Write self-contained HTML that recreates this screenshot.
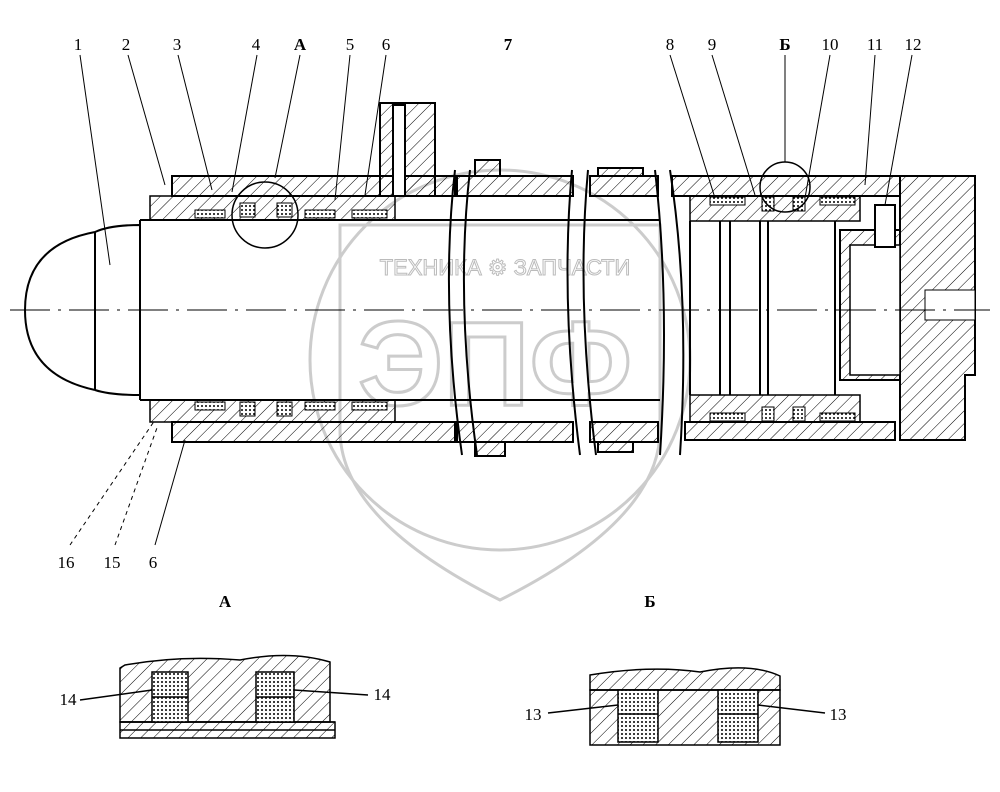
<!DOCTYPE html>
<html><head><meta charset="utf-8"><style>html,body{margin:0;padding:0;background:#fff}svg{display:block}</style></head>
<body>
<svg width="1000" height="792" viewBox="0 0 1000 792" xmlns="http://www.w3.org/2000/svg" font-family="Liberation Serif, serif">
<defs>
<pattern id="h" width="9" height="9" patternUnits="userSpaceOnUse" patternTransform="rotate(45)"><line x1="0" y1="0" x2="0" y2="9" stroke="#000" stroke-width="1"/></pattern>
<pattern id="x" width="4" height="4" patternUnits="userSpaceOnUse"><rect width="4" height="4" fill="#fff"/><circle cx="2" cy="2" r="1" fill="#000"/></pattern>
</defs>
<rect width="1000" height="792" fill="#fff"/>
<!-- watermark -->
<g fill="none" stroke="#ccc" stroke-width="3">
<path d="M340 225 H660 V430 Q660 520 500 600 Q340 520 340 430 Z"/>
<circle cx="500" cy="360" r="190"/>
</g>
<text x="505" y="275" font-family="Liberation Sans" font-size="22" fill="none" stroke="#bbb" text-anchor="middle">ТЕХНИКА ⚙ ЗАПЧАСТИ</text>
<text x="495" y="405" font-family="Liberation Sans" font-size="120" font-weight="bold" fill="none" stroke="#ccc" stroke-width="3" text-anchor="middle">ЭПФ</text>
<g stroke="#000" fill="none" stroke-width="2">
<!-- head -->
<path d="M95 232 Q25 245 25 310 Q25 375 95 390"/>
<path d="M95 232 Q110 225 140 225 V395 Q110 395 95 390" />
<line x1="95" y1="232" x2="95" y2="390"/>
<!-- rod -->
<line x1="140" y1="220" x2="455" y2="220"/>
<line x1="140" y1="400" x2="455" y2="400"/>
<line x1="140" y1="220" x2="140" y2="400"/>
<!-- outer tube top -->
<rect x="172" y="176" width="285" height="20" fill="url(#h)"/>
<rect x="150" y="196" width="245" height="24" fill="url(#h)" stroke-width="1.5"/>
<rect x="172" y="422" width="285" height="20" fill="url(#h)"/>
<rect x="150" y="400" width="245" height="22" fill="url(#h)" stroke-width="1.5"/>
<!-- port -->
<rect x="380" y="103" width="55" height="93" fill="url(#h)"/>
<rect x="393" y="105" width="12" height="91" fill="#fff"/>
<!-- middle segments -->
<rect x="455" y="176" width="118" height="20" fill="url(#h)"/>
<rect x="455" y="422" width="118" height="20" fill="url(#h)"/>
<rect x="475" y="160" width="25" height="16" fill="url(#h)"/>
<rect x="475" y="442" width="30" height="14" fill="url(#h)"/>
<rect x="590" y="176" width="68" height="20" fill="url(#h)"/>
<rect x="590" y="422" width="68" height="20" fill="url(#h)"/>
<rect x="598" y="168" width="45" height="8" fill="url(#h)"/>
<rect x="598" y="442" width="35" height="10" fill="url(#h)"/>
<line x1="455" y1="220" x2="660" y2="220"/><line x1="455" y1="400" x2="660" y2="400"/>
<path d="M455 170 Q440 300 462 455"/><path d="M470 170 Q455 300 477 455"/>
<path d="M572 170 Q560 300 580 455"/><path d="M588 170 Q576 300 596 455"/>
<path d="M655 170 Q670 300 660 455"/><path d="M670 170 Q690 300 680 455"/>
<!-- right section -->
<rect x="672" y="176" width="228" height="20" fill="url(#h)"/>
<rect x="685" y="422" width="210" height="18" fill="url(#h)"/>
<path d="M900 176 H975 V375 H965 V440 H900 Z" fill="url(#h)"/>
<rect x="690" y="196" width="170" height="25" fill="url(#h)" stroke-width="1.5"/>
<rect x="690" y="395" width="170" height="27" fill="url(#h)" stroke-width="1.5"/>
<line x1="720" y1="221" x2="720" y2="395"/><line x1="730" y1="221" x2="730" y2="395"/>
<line x1="760" y1="221" x2="760" y2="395"/><line x1="768" y1="221" x2="768" y2="395"/>
<line x1="690" y1="221" x2="690" y2="395"/>
<line x1="835" y1="221" x2="835" y2="395"/>
<path d="M840 230 H900 V380 H840 Z" fill="url(#h)"/>
<rect x="850" y="245" width="50" height="130" fill="#fff" stroke-width="1.5"/>
<rect x="875" y="205" width="20" height="42" fill="#fff"/>
<rect x="925" y="290" width="50" height="30" fill="#fff" stroke-width="1"/>
<!-- seals -->
<g fill="url(#x)" stroke-width="1">
<rect x="195" y="210" width="30" height="8"/><rect x="240" y="203" width="15" height="14"/><rect x="277" y="203" width="15" height="14"/><rect x="305" y="210" width="30" height="8"/><rect x="352" y="210" width="35" height="8"/>
<rect x="195" y="402" width="30" height="8"/><rect x="240" y="402" width="15" height="14"/><rect x="277" y="402" width="15" height="14"/><rect x="305" y="402" width="30" height="8"/><rect x="352" y="402" width="35" height="8"/>
<rect x="710" y="197" width="35" height="8"/><rect x="762" y="197" width="12" height="14"/><rect x="793" y="197" width="12" height="14"/><rect x="820" y="197" width="35" height="8"/>
<rect x="710" y="413" width="35" height="8"/><rect x="762" y="407" width="12" height="14"/><rect x="793" y="407" width="12" height="14"/><rect x="820" y="413" width="35" height="8"/>
</g>
<circle cx="265" cy="215" r="33" stroke-width="1.5"/>
<circle cx="785" cy="187" r="25" stroke-width="1.5"/>
</g>
<!-- centerline -->
<line x1="10" y1="310" x2="990" y2="310" stroke="#000" stroke-width="1" stroke-dasharray="40,8,3,8"/>
<!-- leaders -->
<g stroke="#000" stroke-width="1" fill="none">
<line x1="80" y1="55" x2="110" y2="265"/><line x1="128" y1="55" x2="165" y2="185"/><line x1="178" y1="55" x2="212" y2="190"/>
<line x1="257" y1="55" x2="232" y2="192"/><line x1="300" y1="55" x2="275" y2="178"/><line x1="350" y1="55" x2="335" y2="200"/>
<line x1="386" y1="55" x2="365" y2="195"/><line x1="670" y1="55" x2="715" y2="198"/><line x1="712" y1="55" x2="755" y2="195"/>
<line x1="785" y1="55" x2="785" y2="162"/><line x1="830" y1="55" x2="805" y2="198"/><line x1="875" y1="55" x2="865" y2="185"/><line x1="912" y1="55" x2="885" y2="205"/>
<line x1="70" y1="545" x2="155" y2="420" stroke-dasharray="4,4"/><line x1="115" y1="545" x2="158" y2="425" stroke-dasharray="4,4"/><line x1="155" y1="545" x2="185" y2="440"/>
</g>
<g font-size="17" fill="#000" text-anchor="middle">
<text x="78" y="50">1</text><text x="126" y="50">2</text><text x="177" y="50">3</text><text x="256" y="50">4</text><text x="300" y="50" font-weight="bold">А</text>
<text x="350" y="50">5</text><text x="386" y="50">6</text><text x="508" y="50" font-weight="bold">7</text><text x="670" y="50">8</text><text x="712" y="50">9</text>
<text x="785" y="50" font-weight="bold">Б</text><text x="830" y="50">10</text><text x="875" y="50">11</text><text x="913" y="50">12</text>
<text x="66" y="568">16</text><text x="112" y="568">15</text><text x="153" y="568">6</text>
<text x="225" y="607" font-weight="bold">А</text><text x="650" y="607" font-weight="bold">Б</text>
<text x="68" y="705">14</text><text x="382" y="700">14</text><text x="533" y="720">13</text><text x="838" y="720">13</text>
</g>
<!-- detail A -->
<g stroke="#000" fill="none" stroke-width="1.5">
<path d="M125 665 Q180 655 240 660 Q290 650 330 662 V722 H120 V668 Z" fill="url(#h)"/>
<path d="M120 722 L335 722 M120 730 H335" />
<rect x="120" y="722" width="215" height="16" fill="url(#h)"/>
<rect x="152" y="672" width="36" height="50" fill="url(#x)"/>
<rect x="256" y="672" width="38" height="50" fill="url(#x)"/>
<line x1="256" y1="697" x2="294" y2="697"/><line x1="152" y1="697" x2="188" y2="697"/>
<line x1="80" y1="700" x2="152" y2="690"/><line x1="294" y1="690" x2="368" y2="695"/>
</g>
<!-- detail B -->
<g stroke="#000" fill="none" stroke-width="1.5">
<path d="M590 675 Q650 665 700 672 Q750 662 780 676 V690 H590 Z" fill="url(#h)"/>
<rect x="590" y="690" width="190" height="55" fill="url(#h)"/>
<rect x="618" y="690" width="40" height="52" fill="url(#x)"/>
<rect x="718" y="690" width="40" height="52" fill="url(#x)"/>
<line x1="618" y1="714" x2="658" y2="714"/><line x1="718" y1="714" x2="758" y2="714"/>
<line x1="590" y1="690" x2="780" y2="690"/>
<line x1="548" y1="713" x2="618" y2="705"/><line x1="758" y1="705" x2="825" y2="713"/>
</g>
</svg>
</body></html>
